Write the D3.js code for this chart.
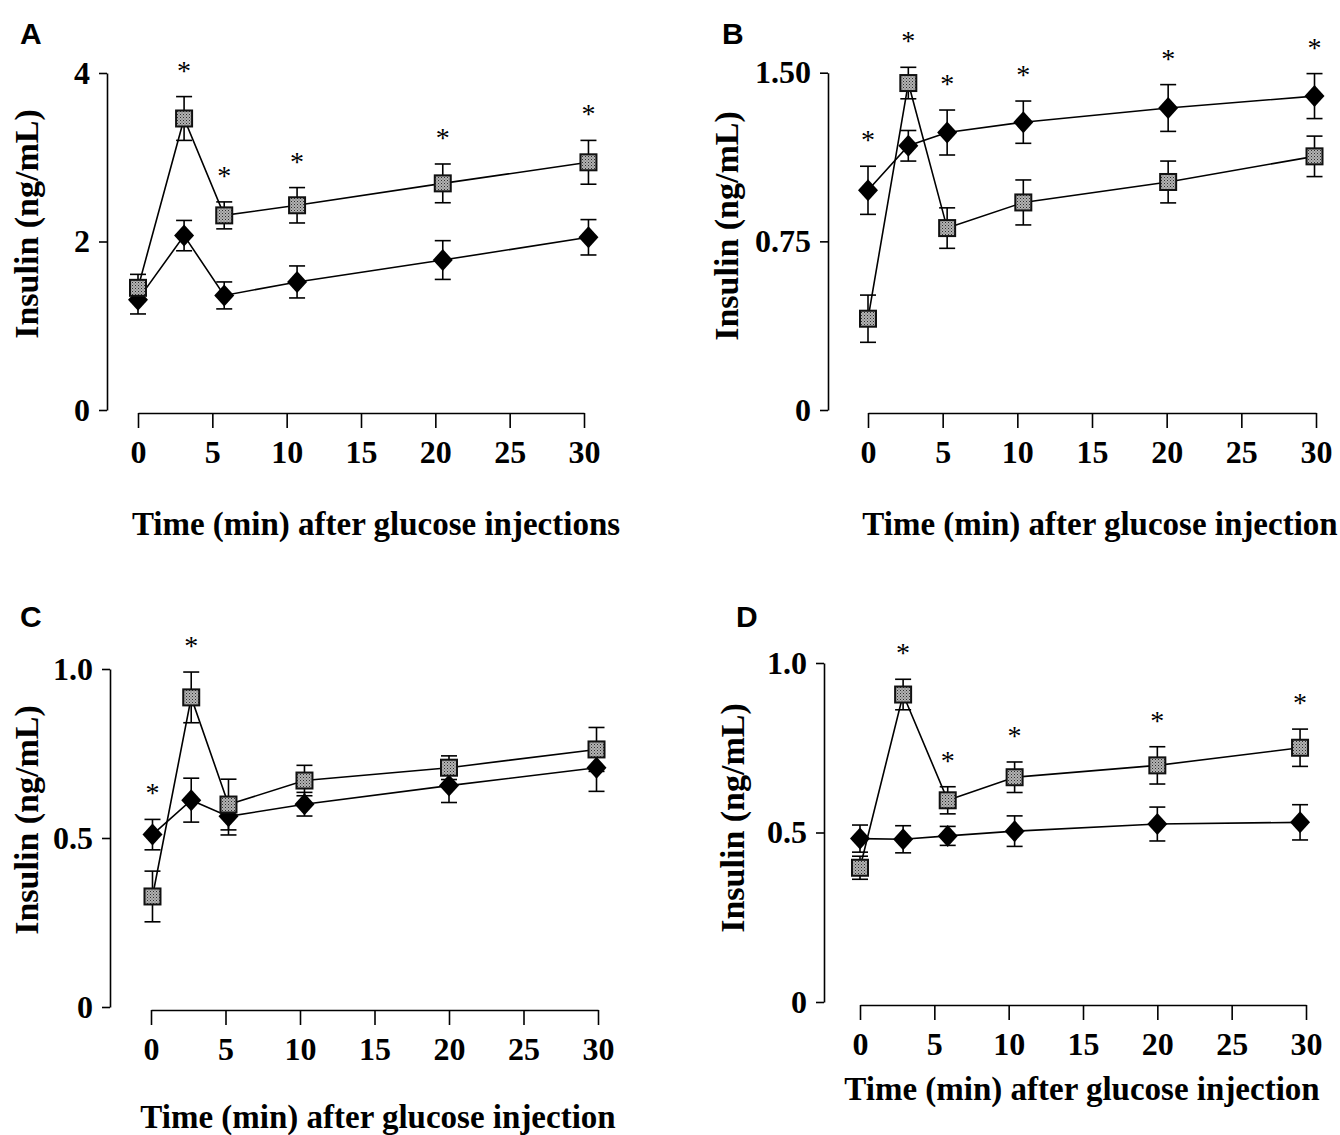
<!DOCTYPE html>
<html>
<head>
<meta charset="utf-8">
<script src="https://d3js.org/d3.v7.min.js"></script>
<style>
  body { margin: 0; background: #fff; }
  svg { display: block; }
</style>
</head>
<body>
<script>
// ---- data (insulin, ng/mL; mean and error) ----
const xTicks = [0, 5, 10, 15, 20, 25, 30];

// panel A
const timesA = [0, 3.1, 5.8, 10.7, 20.5, 30.3];
const sqA = [1.45, 3.46, 2.31, 2.43, 2.69, 2.94];
const sqErrA = [0.16, 0.26, 0.16, 0.21, 0.23, 0.26];
const dmA = [1.31, 2.07, 1.36, 1.52, 1.78, 2.05];
const dmErrA = [0.17, 0.18, 0.16, 0.19, 0.23, 0.21];
const starsA = [1, 2, 3, 4, 5];
const yTicksA = [0, 2, 4];
const yLabelsA = ["0", "2", "4"];

// panel B
const timesB = [0, 2.7, 5.3, 10.4, 20.1, 29.9];
const sqB = [0.406, 1.454, 0.809, 0.923, 1.014, 1.128];
const sqErrB = [0.105, 0.07, 0.09, 0.1, 0.093, 0.09];
const dmB = [0.977, 1.175, 1.234, 1.28, 1.343, 1.396];
const dmErrB = [0.107, 0.068, 0.1, 0.094, 0.104, 0.1];
const starsB = [0, 1, 2, 3, 4, 5];
const yTicksB = [0, 0.75, 1.5];
const yLabelsB = ["0", "0.75", "1.50"];

// panel C
const timesC = [0.1, 2.7, 5.2, 10.3, 20.0, 29.9];
const sqC = [0.327, 0.916, 0.599, 0.67, 0.708, 0.762];
const sqErrC = [0.075, 0.075, 0.075, 0.045, 0.035, 0.065];
const dmC = [0.51, 0.612, 0.564, 0.6, 0.655, 0.708];
const dmErrC = [0.045, 0.065, 0.055, 0.035, 0.05, 0.07];
const starsC = [0, 1];
const yTicksC = [0, 0.5, 1];
const yLabelsC = ["0", "0.5", "1.0"];

// panel D
const timesD = [0, 2.9, 5.9, 10.4, 20.0, 29.6];
const sqD = [0.396, 0.907, 0.595, 0.663, 0.698, 0.75];
const sqErrD = [0.034, 0.045, 0.04, 0.045, 0.055, 0.055];
const dmD = [0.482, 0.48, 0.49, 0.504, 0.525, 0.53];
const dmErrD = [0.04, 0.04, 0.028, 0.045, 0.05, 0.052];
const starsD = [1, 2, 3, 4, 5];
const yTicksD = [0, 0.5, 1];
const yLabelsD = ["0", "0.5", "1.0"];

const xTitle = "Time (min) after glucose injection";
const yTitle = "Insulin (ng/mL)";

const serif = "'Liberation Serif', 'Times New Roman', serif";
const sans = "'Liberation Sans', Arial, sans-serif";

var svg = d3.select("body").append("svg").attr("width", 1340).attr("height", 1135);

// stippled grey fill for the square markers
var pat = svg.append("defs").append("pattern")
  .attr("id", "stipple").attr("patternUnits", "userSpaceOnUse")
  .attr("width", 3).attr("height", 3);
pat.append("rect").attr("width", 3).attr("height", 3).attr("fill", "#b2b2b2");
pat.append("rect").attr("width", 1).attr("height", 1).attr("fill", "#2e2e2e");
pat.append("rect").attr("x", 1.5).attr("y", 1.5).attr("width", 1).attr("height", 1).attr("fill", "#5a5a5a");

function panel(p) {
  var x = d3.scaleLinear().domain([0, 30]).range([p.x0, p.x1]);
  var y = d3.scaleLinear().domain([0, p.ymax]).range([p.yb, p.yt]);
  var g = svg.append("g");

  // axes
  var ya = g.append("g").attr("transform", "translate(" + p.ax + ",0)")
    .call(d3.axisLeft(y).tickValues(p.yTicks).tickFormat(function(d, i){ return p.yLabels[i]; })
      .tickSize(8).tickSizeOuter(0).tickPadding(9));
  var xa = g.append("g").attr("transform", "translate(0," + (p.yb + 3) + ")")
    .call(d3.axisBottom(x).tickValues(xTicks).tickSize(15).tickSizeOuter(0).tickPadding(12));
  [ya, xa].forEach(function(a){
    a.attr("font-family", serif).attr("font-size", 32).attr("font-weight", "bold");
    a.selectAll("path, line").attr("stroke", "#000").attr("stroke-width", 1.6);
    a.selectAll("text").attr("fill", "#000");
  });

  // titles
  g.append("text").attr("x", p.xtx).attr("y", p.xty).attr("text-anchor", "middle")
    .attr("font-family", serif).attr("font-size", 33).attr("font-weight", "bold").text(p.xTitle);
  g.append("text").attr("transform", "translate(" + p.ytx + "," + p.yty + ") rotate(-90)")
    .attr("text-anchor", "middle")
    .attr("font-family", serif).attr("font-size", 34).attr("font-weight", "bold").text(yTitle);
  g.append("text").attr("x", p.lx).attr("y", p.ly)
    .attr("font-family", sans).attr("font-size", 30).attr("font-weight", "bold").text(p.letter);

  var rows = p.t.map(function(t, i){
    return { t: t, sq: p.sq[i], se: p.sqErr[i], dm: p.dm[i], de: p.dmErr[i] };
  });

  var line = function(key){
    return d3.line().x(function(d){ return x(d.t); }).y(function(d){ return y(d[key]); });
  };
  g.append("path").attr("d", line("dm")(rows)).attr("fill", "none").attr("stroke", "#000").attr("stroke-width", 1.6);
  g.append("path").attr("d", line("sq")(rows)).attr("fill", "none").attr("stroke", "#000").attr("stroke-width", 1.6);

  // error bars
  function bars(key, ekey) {
    var eb = g.append("g").attr("stroke", "#000").attr("stroke-width", 1.6);
    rows.forEach(function(d){
      var cx = x(d.t), top = y(d[key] + d[ekey]), bot = y(d[key] - d[ekey]);
      eb.append("line").attr("x1", cx).attr("x2", cx).attr("y1", top).attr("y2", bot);
      eb.append("line").attr("x1", cx - 8).attr("x2", cx + 8).attr("y1", top).attr("y2", top);
      eb.append("line").attr("x1", cx - 8).attr("x2", cx + 8).attr("y1", bot).attr("y2", bot);
    });
  }
  bars("dm", "de");
  bars("sq", "se");

  // diamonds
  g.selectAll(".dm").data(rows).join("path")
    .attr("d", function(d){
      var cx = x(d.t), cy = y(d.dm);
      return "M" + cx + "," + (cy - 11) + "L" + (cx + 10) + "," + cy + "L" + cx + "," + (cy + 11) + "L" + (cx - 10) + "," + cy + "Z";
    })
    .attr("fill", "#000");

  // squares
  g.selectAll(".sq").data(rows).join("rect")
    .attr("x", function(d){ return x(d.t) - 8; })
    .attr("y", function(d){ return y(d.sq) - 8; })
    .attr("width", 16).attr("height", 16)
    .attr("fill", "url(#stipple)").attr("stroke", "#111").attr("stroke-width", 2);

  // significance marks
  p.stars.forEach(function(i){
    var d = rows[i];
    var top = Math.min(y(d.sq + d.se), y(d.dm + d.de));
    g.append("text").attr("x", x(d.t)).attr("y", top - 30 + 13)
      .attr("text-anchor", "middle").attr("font-family", serif).attr("font-size", 28)
      .attr("fill", "#000").text("*");
  });
}

panel({ letter: "A", lx: 20, ly: 44, t: timesA, sq: sqA, sqErr: sqErrA, dm: dmA, dmErr: dmErrA, stars: starsA,
  yTicks: yTicksA, yLabels: yLabelsA, ymax: 4, yb: 410, yt: 73, ax: 107, x0: 138, x1: 584,
  xTitle: xTitle + "s", xtx: 376, xty: 535, ytx: 38, yty: 224 });

panel({ letter: "B", lx: 722, ly: 44, t: timesB, sq: sqB, sqErr: sqErrB, dm: dmB, dmErr: dmErrB, stars: starsB,
  yTicks: yTicksB, yLabels: yLabelsB, ymax: 1.5, yb: 410, yt: 72.7, ax: 828, x0: 868, x1: 1316,
  xTitle: xTitle, xtx: 1100, xty: 535, ytx: 738, yty: 226 });

panel({ letter: "C", lx: 20, ly: 627, t: timesC, sq: sqC, sqErr: sqErrC, dm: dmC, dmErr: dmErrC, stars: starsC,
  yTicks: yTicksC, yLabels: yLabelsC, ymax: 1, yb: 1007, yt: 669, ax: 110, x0: 151, x1: 598,
  xTitle: xTitle, xtx: 378, xty: 1128, ytx: 38, yty: 820 });

panel({ letter: "D", lx: 736, ly: 627, t: timesD, sq: sqD, sqErr: sqErrD, dm: dmD, dmErr: dmErrD, stars: starsD,
  yTicks: yTicksD, yLabels: yLabelsD, ymax: 1, yb: 1002, yt: 663, ax: 824, x0: 860, x1: 1306,
  xTitle: xTitle, xtx: 1082, xty: 1100, ytx: 744, yty: 818 });
</script>
</body>
</html>
